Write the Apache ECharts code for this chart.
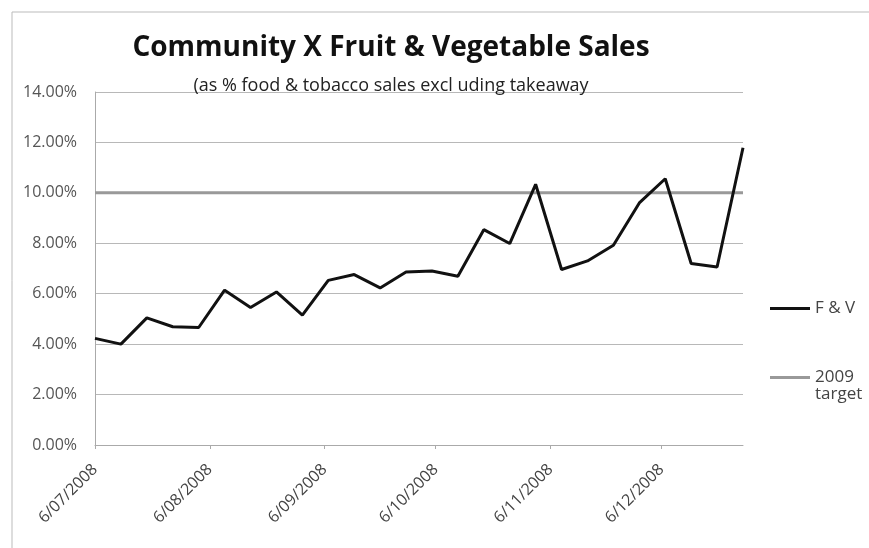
<!DOCTYPE html>
<html><head><meta charset="utf-8">
<script src="https://cdn.jsdelivr.net/npm/echarts@6/dist/echarts.min.js"></script>
<style>html,body{margin:0;padding:0;background:#fff}#c{width:869px;height:548px}</style>
</head><body><div id="c"></div>
<script>
const dates = ['6/07/2008','13/07/2008','20/07/2008','27/07/2008','3/08/2008','10/08/2008','17/08/2008','24/08/2008','31/08/2008','7/09/2008','14/09/2008','21/09/2008','28/09/2008','5/10/2008','12/10/2008','19/10/2008','26/10/2008','2/11/2008','9/11/2008','16/11/2008','23/11/2008','30/11/2008','7/12/2008','14/12/2008','21/12/2008','28/12/2008'];
const fvValues = [4.23,4.00,5.04,4.69,4.66,6.14,5.45,6.07,5.15,6.53,6.76,6.23,6.86,6.90,6.69,8.54,7.99,10.34,6.96,7.30,7.92,9.60,10.56,7.20,7.06,11.79];
const targetValue = 10;
const tickLabels = ['6/07/2008','6/08/2008','6/09/2008','6/10/2008','6/11/2008','6/12/2008'];

function parseDate(s){const p=s.split('/').map(Number);return Date.UTC(p[2],p[1]-1,p[0]);}
function fmtDate(v){const d=new Date(v);return d.getUTCDate()+'/'+String(d.getUTCMonth()+1).padStart(2,'0')+'/'+d.getUTCFullYear();}
const xs = dates.map(parseDate);
const tickVals = tickLabels.map(parseDate);
const fvData = xs.map((x,i)=>[x,fvValues[i]]);
const targetData = [[xs[0],targetValue],[xs[xs.length-1],targetValue]];

const chart = echarts.init(document.getElementById('c'));
chart.setOption({
  animation:false,
  backgroundColor:'#fff',
  graphic:[{type:'rect',shape:{x:12,y:12,width:880,height:560},style:{fill:'none',stroke:'#bbb',lineWidth:1},silent:true}],
  title:{
    text:'Community X Fruit & Vegetable Sales',
    subtext:'(as % food & tobacco sales excl uding takeaway',
    left:386, top:28, textAlign:'center',
    textStyle:{fontFamily:'Open Sans',fontWeight:'bold',fontSize:28,lineHeight:30,color:'#111'},
    subtextStyle:{fontFamily:'Open Sans',fontSize:18,lineHeight:20,color:'#222'},
    itemGap:13
  },
  legend:{
    orient:'vertical', left:765, top:295, itemGap:35,
    itemWidth:40, itemHeight:3, icon:'rect',
    formatter:n=>n==='2009 target'?'\n2009\ntarget':n,
    textStyle:{fontFamily:'Open Sans',fontSize:17,color:'#444',lineHeight:17},
    data:['F & V','2009 target']
  },
  grid:{left:95,right:126,top:92,bottom:103},
  xAxis:{
    type:'value', min:xs[0], max:xs[xs.length-1],
    axisLine:{show:true,lineStyle:{color:'#aaa',width:1}},
    axisTick:{show:true,customValues:tickVals,length:4,lineStyle:{color:'#aaa'}},
    axisLabel:{customValues:tickVals,rotate:45,margin:22,formatter:v=>fmtDate(v),fontFamily:'Open Sans',fontSize:16,color:'#444'},
    splitLine:{show:false}
  },
  yAxis:{
    type:'value', min:0, max:14, interval:2,
    axisLine:{show:true,lineStyle:{color:'#aaa',width:1}},
    axisTick:{show:false},
    axisLabel:{formatter:v=>v.toFixed(2)+'%',margin:18,fontFamily:'Open Sans',fontSize:16,color:'#555'},
    splitLine:{show:true,lineStyle:{color:'#b8b8b8',width:1}}
  },
  series:[
    {name:'F & V',type:'line',data:fvData,symbol:'none',lineStyle:{color:'#111',width:3},itemStyle:{color:'#111'},z:3},
    {name:'2009 target',type:'line',data:targetData,symbol:'none',lineStyle:{color:'#999',width:3},itemStyle:{color:'#999'},z:2}
  ]
});
</script></body></html>
